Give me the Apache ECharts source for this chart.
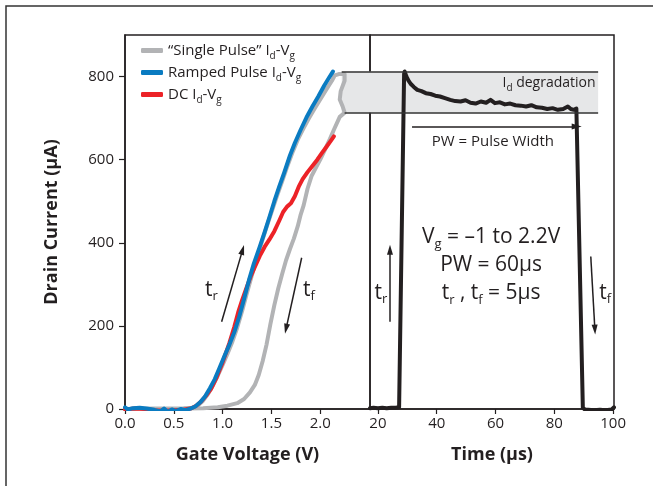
<!DOCTYPE html>
<html>
<head>
<meta charset="utf-8">
<script src="https://cdn.jsdelivr.net/npm/echarts@6/dist/echarts.min.js"></script>
<style>
  html, body { margin: 0; padding: 0; background: #fff; }
  #chart { width: 653px; height: 486px; }
</style>
</head>
<body>
<div id="chart"></div>
<script>
// Axis ticks
const currentTicks = [0, 200, 400, 600, 800];
const voltageTicks = [0, 0.5, 1.0, 1.5, 2.0];
const timeTicks = [20, 40, 60, 80, 100];

// "Single Pulse" Id-Vg loop (rising sweep, top of pulse, falling sweep)
const singlePulseV = [0.0, 0.3, 0.6, 0.7, 0.75, 0.8, 0.85, 0.9, 0.95, 1.0, 1.05, 1.1, 1.15, 1.2, 1.25, 1.3, 1.36, 1.41, 1.46, 1.51, 1.56, 1.61, 1.66, 1.72, 1.77, 1.83, 1.88, 1.94, 2.0, 2.06, 2.12, 2.15, 2.19, 2.25, 2.25, 2.21, 2.2, 2.23, 2.25, 2.2, 2.14, 2.1, 2.05, 2.0, 1.95, 1.91, 1.87, 1.83, 1.8, 1.77, 1.73, 1.69, 1.65, 1.61, 1.57, 1.53, 1.49, 1.45, 1.41, 1.37, 1.33, 1.28, 1.22, 1.15, 1.05, 0.95, 0.8, 0.6];
const singlePulseI = [0, 1, 2, 3, 9, 20, 36, 56, 80, 106, 133, 162, 196, 236, 280, 322, 370, 408, 445, 480, 515, 548, 582, 620, 648, 676, 698, 722, 745, 768, 790, 803, 806, 806, 790, 765, 745, 728, 713, 703, 672, 650, 625, 600, 578, 560, 530, 490, 468, 440, 410, 385, 358, 325, 290, 250, 205, 155, 115, 82, 58, 40, 24, 14, 8, 4, 2, 1];

// Ramped Pulse Id-Vg
const rampedV = [0.0, 0.03, 0.08, 0.15, 0.22, 0.3, 0.36, 0.4, 0.44, 0.48, 0.52, 0.57, 0.62, 0.67, 0.72, 0.77, 0.82, 0.87, 0.92, 0.97, 1.02, 1.07, 1.12, 1.17, 1.22, 1.27, 1.32, 1.38, 1.43, 1.48, 1.53, 1.58, 1.63, 1.69, 1.74, 1.8, 1.86, 1.92, 1.98, 2.04, 2.09, 2.13];
const rampedI = [4, -1, 2, 3, 1, -2, -6, 1, -7, -1, -5, 0, -3, 1, 6, 16, 30, 50, 72, 100, 128, 155, 185, 222, 265, 310, 350, 390, 425, 462, 500, 535, 568, 610, 640, 672, 702, 728, 752, 778, 797, 812];

// DC Id-Vg
const dcV = [0.0, 0.1, 0.2, 0.3, 0.4, 0.5, 0.6, 0.68, 0.73, 0.78, 0.83, 0.88, 0.94, 1.0, 1.07, 1.12, 1.16, 1.2, 1.25, 1.29, 1.33, 1.38, 1.43, 1.48, 1.53, 1.58, 1.62, 1.66, 1.7, 1.74, 1.78, 1.82, 1.87, 1.92, 1.97, 2.02, 2.07, 2.11, 2.14];
const dcI = [-1, 1, 0, -3, -4, -3, -2, 2, 8, 18, 32, 48, 77, 112, 159, 198, 233, 262, 295, 320, 342, 368, 390, 408, 428, 453, 474, 487, 495, 512, 535, 553, 570, 585, 600, 617, 633, 646, 656];

// Drain current during one 60 µs gate pulse
const pulseT = [17.3, 18.5, 20, 21.5, 23, 24.5, 26, 27.2, 28.9, 29.1, 29.7, 30.4, 31.2, 32.2, 33.4, 34.8, 36.3, 37.9, 39.5, 41.1, 42.8, 44.6, 46.3, 48.1, 49.8, 51.5, 53.2, 55.0, 56.8, 58.3, 59.8, 61.5, 63.2, 65.0, 66.8, 68.6, 70.4, 72.2, 74.0, 75.8, 77.6, 79.4, 81.2, 83.0, 84.6, 85.6, 86.6, 87.5, 88.1, 89.7, 90.5, 91.5, 93.5, 95.5, 97.5, 99.5, 100.3];
const pulseI = [2, 3, 2, 3, 2, 3, 3, 4, 806, 812, 800, 790, 782, 775, 768, 765, 760, 758, 754, 752, 748, 744, 741, 740, 743, 737, 735, 740, 737, 744, 736, 738, 733, 735, 731, 730, 728, 731, 726, 725, 722, 724, 720, 722, 728, 722, 720, 723, 721, 3, -2, -2, -3, -2, -3, -1, 4];

// Id degradation band (µA) and its extent on each axis
const bandCurrent = [713, 812];
const bandVoltage = [2.22, 2.51];
const bandTime = [17.3, 94.9];

const INK = '#231f20';
const FONT = '"Open Sans", "Noto Sans", sans-serif';
const zip = (xs, ys) => xs.map((x, i) => [x, ys[i]]);

const NAME_SINGLE = '\u201CSingle Pulse\u201D Id-Vg';
const NAME_RAMPED = 'Ramped Pulse Id-Vg';
const NAME_DC = 'DC Id-Vg';
const legendRich = {
  [NAME_SINGLE]: '{n|\u201CSingle Pulse\u201D I}{s|d}{n|-V}{s|g}',
  [NAME_RAMPED]: '{n|Ramped Pulse I}{s|d}{n|-V}{s|g}',
  [NAME_DC]: '{n|DC I}{s|d}{n|-V}{s|g}'
};

const bigRich = {
  n: { fontSize: 21, lineHeight: 28, color: INK, fontFamily: FONT },
  s: { fontSize: 13, lineHeight: 13, padding: [14, 0, 0, 0], color: INK, fontFamily: FONT }
};
const midRich = {
  n: { fontSize: 15, lineHeight: 20, color: INK, fontFamily: FONT }
};
const smallRich = {
  n: { fontSize: 14, lineHeight: 20, color: INK, fontFamily: FONT },
  s: { fontSize: 10, lineHeight: 10, padding: [10, 0, 0, 0], color: INK, fontFamily: FONT }
};

function textPoint(coord, text, rich) {
  return {
    coord: coord,
    symbol: 'circle',
    symbolSize: 1,
    itemStyle: { color: 'rgba(0,0,0,0)' },
    label: { show: true, position: 'inside', formatter: text, rich: rich, align: 'center' }
  };
}
function arrow(from, to) {
  return [{ coord: from, symbol: 'none' }, { coord: to, symbol: 'triangle', symbolSize: [6, 10] }];
}
function segment(from, to) {
  return [{ coord: from, symbol: 'none' }, { coord: to, symbol: 'none' }];
}

const chart = echarts.init(document.getElementById('chart'), null, { renderer: 'canvas' });

const option = {
  backgroundColor: '#fff',
  animation: false,
  textStyle: { fontFamily: FONT, color: INK },
  graphic: [{
    type: 'rect',
    shape: { x: 6, y: 6, width: 720, height: 560 },
    style: { fill: 'none', stroke: '#333', lineWidth: 1.5 },
    silent: true
  }],
  legend: {
    orient: 'vertical',
    left: 136,
    top: 35,
    itemWidth: 22,
    itemHeight: 5,
    itemGap: 1,
    icon: 'roundRect',
    data: [NAME_SINGLE, NAME_RAMPED, NAME_DC],
    formatter: name => legendRich[name],
    textStyle: {
      color: INK,
      fontFamily: FONT,
      rich: {
        n: { fontSize: 15, lineHeight: 21, color: INK, fontFamily: FONT },
        s: { fontSize: 10, lineHeight: 10, padding: [11, 0, 0, 0], color: INK, fontFamily: FONT }
      }
    },
    selectedMode: false
  },
  grid: [
    { left: 125, top: 35, width: 245, height: 374, show: true, borderColor: INK, borderWidth: 1.5, containLabel: false },
    { left: 370, top: 35, width: 244, height: 374, show: true, borderColor: INK, borderWidth: 1.5, containLabel: false }
  ],
  xAxis: [
    {
      gridIndex: 0, type: 'value', min: 0, max: 2.51,
      axisLine: { show: true, onZero: false, lineStyle: { color: INK, width: 1.5 } },
      axisTick: { show: true, customValues: voltageTicks, length: 5, lineStyle: { color: INK, width: 1.2 } },
      axisLabel: { customValues: voltageTicks, formatter: v => v.toFixed(1), fontSize: 15, color: INK, margin: 7, fontFamily: FONT },
      splitLine: { show: false },
      name: 'Gate Voltage (V)', nameLocation: 'middle', nameGap: 37,
      nameTextStyle: { fontSize: 18, fontWeight: 'bold', color: INK, fontFamily: FONT }
    },
    {
      gridIndex: 1, type: 'value', min: 17.3, max: 100.3,
      axisLine: { show: true, onZero: false, lineStyle: { color: INK, width: 1.5 } },
      axisTick: { show: true, customValues: timeTicks, length: 5, lineStyle: { color: INK, width: 1.2 } },
      axisLabel: { customValues: timeTicks, fontSize: 15, color: INK, margin: 7, fontFamily: FONT },
      splitLine: { show: false },
      name: 'Time (\u03BCs)', nameLocation: 'middle', nameGap: 37,
      nameTextStyle: { fontSize: 18, fontWeight: 'bold', color: INK, fontFamily: FONT }
    }
  ],
  yAxis: [
    {
      gridIndex: 0, type: 'value', min: 0, max: 900,
      axisLine: { show: true, lineStyle: { color: INK, width: 1.5 } },
      axisTick: { show: true, customValues: currentTicks, length: 6, lineStyle: { color: INK, width: 1.2 } },
      axisLabel: { customValues: currentTicks, fontSize: 15, color: INK, margin: 11, fontFamily: FONT },
      splitLine: { show: false },
      name: 'Drain Current (\u03BCA)', nameLocation: 'middle', nameGap: 64, nameRotate: 90,
      nameTextStyle: { fontSize: 18, fontWeight: 'bold', color: INK, fontFamily: FONT }
    },
    {
      gridIndex: 1, type: 'value', min: 0, max: 900,
      axisLine: { show: false }, axisTick: { show: false }, axisLabel: { show: false },
      splitLine: { show: false }
    }
  ],
  series: [
    // degradation band, left panel
    {
      type: 'line', xAxisIndex: 0, yAxisIndex: 0, data: [], z: 1, silent: true,
      markArea: {
        silent: true,
        itemStyle: { color: '#e6e7e8', borderWidth: 0 },
        data: [[{ coord: [bandVoltage[0], bandCurrent[0]] }, { coord: [bandVoltage[1], bandCurrent[1]] }]]
      },
      markLine: {
        silent: true, label: { show: false },
        lineStyle: { color: '#333', width: 1.5, type: 'solid' },
        data: [
          segment([bandVoltage[0], bandCurrent[1]], [bandVoltage[1], bandCurrent[1]]),
          segment([bandVoltage[0] + 0.03, bandCurrent[0]], [bandVoltage[1], bandCurrent[0]])
        ]
      }
    },
    // degradation band, right panel
    {
      type: 'line', xAxisIndex: 1, yAxisIndex: 1, data: [], z: 1, silent: true,
      markArea: {
        silent: true,
        itemStyle: { color: '#e6e7e8', borderWidth: 0 },
        data: [[{ coord: [bandTime[0], bandCurrent[0]] }, { coord: [bandTime[1], bandCurrent[1]] }]]
      },
      markLine: {
        silent: true, label: { show: false },
        lineStyle: { color: '#333', width: 1.5, type: 'solid' },
        data: [
          segment([bandTime[0], bandCurrent[1]], [bandTime[1], bandCurrent[1]]),
          segment([bandTime[0], bandCurrent[0]], [bandTime[1], bandCurrent[0]])
        ]
      }
    },
    {
      name: NAME_SINGLE, type: 'line', xAxisIndex: 0, yAxisIndex: 0, z: 2,
      data: zip(singlePulseV, singlePulseI), showSymbol: false, symbol: 'none',
      color: '#b2b3b5',
      lineStyle: { color: '#b2b3b5', width: 4, cap: 'round', join: 'round' }
    },
    {
      name: NAME_DC, type: 'line', xAxisIndex: 0, yAxisIndex: 0, z: 3,
      data: zip(dcV, dcI), showSymbol: false, symbol: 'none',
      color: '#ec2227',
      lineStyle: { color: '#ec2227', width: 4, cap: 'round', join: 'round' }
    },
    {
      name: NAME_RAMPED, type: 'line', xAxisIndex: 0, yAxisIndex: 0, z: 4,
      data: zip(rampedV, rampedI), showSymbol: false, symbol: 'none',
      color: '#0a7bc1',
      lineStyle: { color: '#0a7bc1', width: 4, cap: 'round', join: 'round' }
    },
    {
      type: 'line', xAxisIndex: 1, yAxisIndex: 1, z: 4,
      data: zip(pulseT, pulseI), showSymbol: false, symbol: 'none',
      color: INK,
      lineStyle: { color: INK, width: 4, cap: 'round', join: 'round' }
    },
    // annotations, left panel
    {
      type: 'line', xAxisIndex: 0, yAxisIndex: 0, data: [], z: 6, silent: true,
      markLine: {
        silent: true, label: { show: false },
        lineStyle: { color: INK, width: 1.5, type: 'solid' },
        data: [arrow([0.99, 210], [1.205, 383]), arrow([1.81, 364], [1.65, 193])]
      },
      markPoint: {
        silent: true,
        data: [textPoint([0.885, 287], '{n|t}{s|r}', bigRich), textPoint([1.885, 287], '{n|t}{s|f}', bigRich)]
      }
    },
    // annotations, right panel
    {
      type: 'line', xAxisIndex: 1, yAxisIndex: 1, data: [], z: 6, silent: true,
      markLine: {
        silent: true, label: { show: false },
        lineStyle: { color: INK, width: 1.5, type: 'solid' },
        data: [
          arrow([24.1, 210], [24.1, 383]),
          arrow([92.4, 367], [93.8, 191]),
          arrow([31.6, 680], [87.6, 680])
        ]
      },
      markPoint: {
        silent: true,
        data: [
          textPoint([21.0, 280], '{n|t}{s|r}', bigRich),
          textPoint([97.3, 280], '{n|t}{s|f}', bigRich),
          textPoint([58.5, 347], '{n|V}{s|g}{n| = \u20131 to 2.2V}\n{n|PW = 60\u03BCs}\n{n|t}{s|r}{n| , t}{s|f}{n| = 5\u03BCs}', bigRich),
          textPoint([59.1, 643], '{n|PW = Pulse Width}', midRich),
          textPoint([78.2, 785], '{n|I}{s|d}{n| degradation}', smallRich)
        ]
      }
    }
  ]
};

chart.setOption(option);
</script>
</body>
</html>
